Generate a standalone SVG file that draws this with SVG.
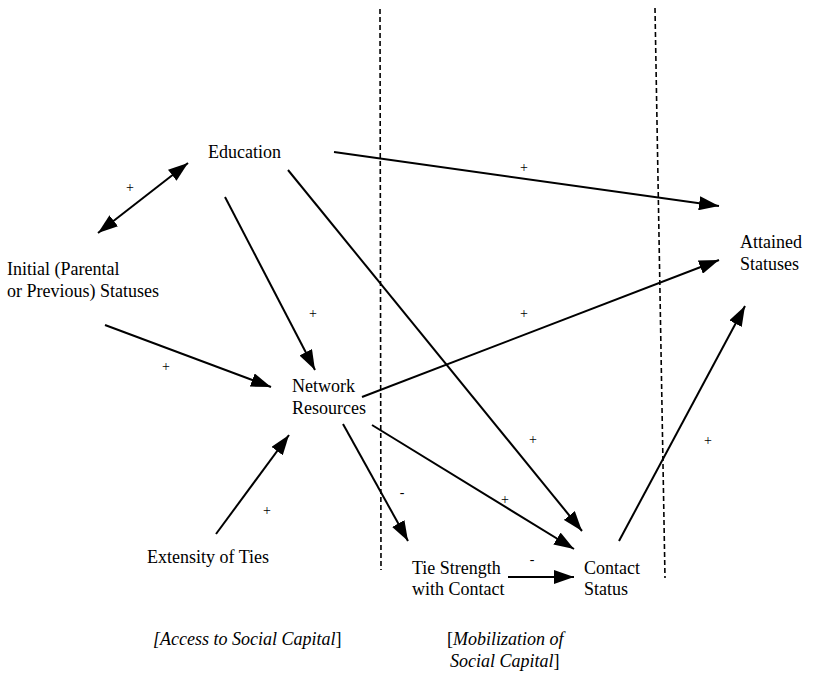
<svg xmlns="http://www.w3.org/2000/svg" width="836" height="684" viewBox="0 0 836 684">
  <defs>
    <marker id="ah" viewBox="0 0 20 14" refX="20" refY="7" markerWidth="20" markerHeight="14" markerUnits="userSpaceOnUse" orient="auto-start-reverse">
      <path d="M0,0 L20,7 L0,14 z" fill="#000"/>
    </marker>
  </defs>
  <rect width="836" height="684" fill="#fff"/>

  <!-- stage boundaries -->
  <g id="boundaries" stroke="#000" stroke-width="1.6" stroke-dasharray="5 3" fill="none">
    <line x1="380" y1="9" x2="381" y2="570"/>
    <line x1="655" y1="8" x2="665" y2="578"/>
  </g>

  <!-- causal paths -->
  <g id="connectors" stroke="#000" stroke-width="2" fill="none">
    <line x1="98" y1="233" x2="188" y2="163" marker-start="url(#ah)" marker-end="url(#ah)"/>
    <line x1="225" y1="197" x2="315" y2="370" marker-end="url(#ah)"/>
    <line x1="288" y1="170" x2="582" y2="531" marker-end="url(#ah)"/>
    <line x1="334" y1="152" x2="719" y2="206" marker-end="url(#ah)"/>
    <line x1="105" y1="325" x2="271" y2="387" marker-end="url(#ah)"/>
    <line x1="362" y1="397" x2="719" y2="260" marker-end="url(#ah)"/>
    <line x1="216" y1="534" x2="289" y2="435" marker-end="url(#ah)"/>
    <line x1="343" y1="424" x2="408" y2="541" marker-end="url(#ah)"/>
    <line x1="372" y1="425" x2="574" y2="549" marker-end="url(#ah)"/>
    <line x1="508" y1="577" x2="574" y2="577" marker-end="url(#ah)"/>
    <line x1="619" y1="541" x2="745" y2="306" marker-end="url(#ah)"/>
  </g>

  <!-- signs -->
  <g id="signs">
    <text font-family="Liberation Serif" font-size="14" text-anchor="middle" x="130" y="192">+</text>
    <text font-family="Liberation Serif" font-size="14" text-anchor="middle" x="313" y="318">+</text>
    <text font-family="Liberation Serif" font-size="14" text-anchor="middle" x="166" y="371">+</text>
    <text font-family="Liberation Serif" font-size="14" text-anchor="middle" x="524" y="172">+</text>
    <text font-family="Liberation Serif" font-size="14" text-anchor="middle" x="524" y="318">+</text>
    <text font-family="Liberation Serif" font-size="14" text-anchor="middle" x="533" y="444">+</text>
    <text font-family="Liberation Serif" font-size="14" text-anchor="middle" x="505" y="504">+</text>
    <text font-family="Liberation Serif" font-size="14" text-anchor="middle" x="267" y="515">+</text>
    <text font-family="Liberation Serif" font-size="14" text-anchor="middle" x="708" y="445">+</text>
    <text font-family="Liberation Serif" font-size="14" text-anchor="middle" x="402" y="497">-</text>
    <text font-family="Liberation Serif" font-size="14" text-anchor="middle" x="532" y="564">-</text>
  </g>

  <g id="education"><text font-family="Liberation Serif" font-size="18" x="208" y="158">Education</text></g>
  <g id="initial-statuses">
    <text font-family="Liberation Serif" font-size="18" x="7" y="275">Initial (Parental</text>
    <text font-family="Liberation Serif" font-size="18" x="7" y="297">or Previous) Statuses</text>
  </g>
  <g id="network-resources">
    <text font-family="Liberation Serif" font-size="18" x="292" y="392">Network</text>
    <text font-family="Liberation Serif" font-size="18" x="292" y="414">Resources</text>
  </g>
  <g id="extensity-of-ties"><text font-family="Liberation Serif" font-size="18" x="147" y="563">Extensity of Ties</text></g>
  <g id="tie-strength">
    <text font-family="Liberation Serif" font-size="18" x="412" y="574">Tie Strength</text>
    <text font-family="Liberation Serif" font-size="18" x="412" y="595">with Contact</text>
  </g>
  <g id="contact-status">
    <text font-family="Liberation Serif" font-size="18" x="584" y="574">Contact</text>
    <text font-family="Liberation Serif" font-size="18" x="584" y="595">Status</text>
  </g>
  <g id="attained-statuses">
    <text font-family="Liberation Serif" font-size="18" x="740" y="248">Attained</text>
    <text font-family="Liberation Serif" font-size="18" x="740" y="270">Statuses</text>
  </g>

  <g id="stage-labels">
    <text font-family="Liberation Serif" font-size="18" x="153" y="645"><tspan font-style="italic">[Access to Social Capital</tspan>]</text>
    <text font-family="Liberation Serif" font-size="18" x="447" y="645">[<tspan font-style="italic">Mobilization of</tspan></text>
    <text font-family="Liberation Serif" font-size="18" x="450" y="667"><tspan font-style="italic">Social Capital</tspan>]</text>
  </g>
</svg>
